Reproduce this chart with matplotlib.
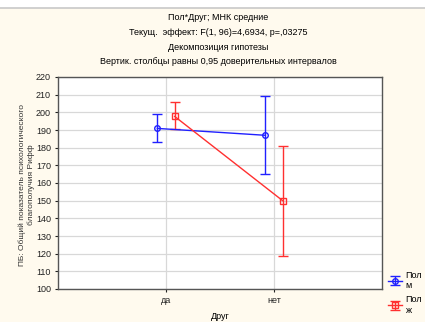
import matplotlib
matplotlib.use("Agg")
import matplotlib.pyplot as plt
from matplotlib.lines import Line2D
import numpy as np

categories = ["да", "нет"]
series_names = ["Пол\nм", "Пол\nж"]
means_m = [190.9, 187.0]
lo_m = [183.0, 164.9]
hi_m = [199.2, 209.2]
means_f = [197.7, 150.0]
lo_f = [190.4, 118.7]
hi_f = [205.7, 181.1]

title_lines = ["Пол*Друг; МНК средние",
               "Текущ.  эффект: F(1, 96)=4,6934, p=,03275",
               "Декомпозиция гипотезы",
               "Вертик. столбцы равны 0,95 доверительных интервалов"]

bg = "#fffaee"
plt.rcParams['font.family'] = ['Liberation Sans', 'DejaVu Sans']

fig = plt.figure(figsize=(4.25, 3.22), dpi=100, facecolor=bg)
ax = fig.add_axes([58 / 425, 1 - 289 / 322, 324 / 425, 212 / 322])
ax.set_facecolor("white")

# top border strip
fig.patches.append(plt.Rectangle((0, 1 - 8 / 322), 1, 8 / 322, transform=fig.transFigure,
                                 facecolor="white", edgecolor="none"))
fig.lines.append(Line2D([0, 1], [1 - 8 / 322, 1 - 8 / 322], transform=fig.transFigure,
                        color="#c8c8c8", lw=1.2))

x = np.arange(len(categories))
off = 0.08
series = [(means_m, lo_m, hi_m, "#2020ff", "o", -off),
          (means_f, lo_f, hi_f, "#ff3030", "s", off)]
handles = []
for means, lo, hi, col, mk, dx in series:
    means = np.array(means)
    err = [means - np.array(lo), np.array(hi) - means]
    h = ax.errorbar(x + dx, means, yerr=err, color=col, marker=mk, ms=4, mfc="none",
                    mec=col, mew=1, lw=1, capsize=3.6, capthick=1, elinewidth=1)
    handles.append(h)

ax.set_xlim(-1, 2)
ax.set_ylim(100, 220)
ax.set_yticks(np.arange(100, 221, 10))
ax.set_xticks(x)
ax.set_xticklabels(categories)
ax.grid(True, color="#d8d8d8", lw=0.9)
ax.set_axisbelow(True)
ax.tick_params(labelsize=6.5, length=2, pad=3, colors="#222222")
for s in ax.spines.values():
    s.set_color("#555555")
    s.set_linewidth(1)

ax.set_xlabel("Друг", fontsize=6.5, labelpad=5)
ax.set_ylabel("ПБ: Общий показатель психологического\nблагополучия Рифф", fontsize=6,
              linespacing=1.35, color="#333333")
ax.yaxis.set_label_coords(-23 / 324, 0.49)

for i, t in enumerate(title_lines):
    fig.text(218 / 425, 1 - (18 + 14.6 * i) / 322, t, ha="center", va="center", fontsize=6.5)

fig.legend(handles, series_names, loc="upper left", bbox_to_anchor=(383 / 425, 1 - 266 / 322),
           frameon=False, fontsize=6.5, handlelength=1.6, handletextpad=0.4,
           labelspacing=0.6, borderpad=0)

fig.savefig("out.png", dpi=100, facecolor=bg)
